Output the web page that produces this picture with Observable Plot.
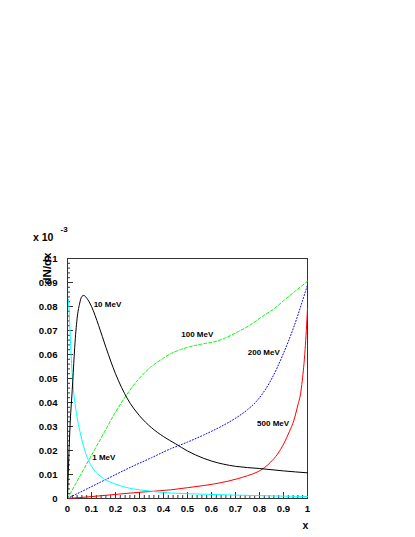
<!DOCTYPE html>
<html>
<head>
<meta charset="utf-8">
<script src="https://cdn.jsdelivr.net/npm/d3@7"></script>
<script src="https://cdn.jsdelivr.net/npm/@observablehq/plot@0.6"></script>
<style>
  html, body { margin: 0; padding: 0; background: #fff; }
  #chart svg { display: block; }
</style>
</head>
<body>
<div id="chart"></div>
<script>
// ---- data ----
const x1MeV = [0.004, 0.008, 0.012, 0.016, 0.02, 0.026, 0.035, 0.045, 0.054, 0.065, 0.082, 0.1, 0.117, 0.135, 0.151, 0.175, 0.2, 0.249, 0.3, 0.35, 0.4, 0.5, 0.6, 0.7, 0.8, 0.9, 1.0];
const y1MeV = [0.083, 0.076, 0.066, 0.058, 0.051, 0.044, 0.037, 0.031, 0.027, 0.0225, 0.0172, 0.0135, 0.011, 0.0095, 0.0082, 0.007, 0.006, 0.0045, 0.0036, 0.003, 0.0025, 0.002, 0.0017, 0.0014, 0.0012, 0.001, 0.0008];

const x10MeV = [0, 0.005, 0.0125, 0.017, 0.022, 0.03, 0.04, 0.05, 0.06, 0.068, 0.08, 0.1, 0.13, 0.16, 0.2, 0.25, 0.3, 0.35, 0.4, 0.45, 0.5, 0.568, 0.6, 0.65, 0.7, 0.8, 0.9, 1.0];
const y10MeV = [0, 0.016, 0.034, 0.041, 0.049, 0.063, 0.075, 0.081, 0.0842, 0.0846, 0.0835, 0.080, 0.072, 0.063, 0.052, 0.0415, 0.0345, 0.0295, 0.0258, 0.0228, 0.0198, 0.0167, 0.0156, 0.0143, 0.0134, 0.0125, 0.0115, 0.0107];

const x100MeV = [0, 0.05, 0.1, 0.15, 0.2, 0.235, 0.27, 0.304, 0.35, 0.4, 0.429, 0.47, 0.52, 0.568, 0.62, 0.66, 0.707, 0.76, 0.818, 0.86, 0.901, 0.95, 1.0];
const y100MeV = [0, 0.009, 0.018, 0.027, 0.036, 0.0415, 0.0465, 0.0506, 0.055, 0.0585, 0.0603, 0.062, 0.0635, 0.0645, 0.0655, 0.067, 0.0693, 0.0722, 0.0763, 0.079, 0.0825, 0.0865, 0.0905];

const x200MeV = [0, 0.1375, 0.2625, 0.35, 0.429, 0.5, 0.568, 0.64, 0.707, 0.75, 0.79, 0.846, 0.9, 0.943, 0.978, 1.0];
const y200MeV = [0, 0.0068, 0.013, 0.017, 0.0207, 0.0235, 0.0265, 0.030, 0.0339, 0.037, 0.0408, 0.049, 0.0605, 0.0715, 0.082, 0.089];

const x500MeV = [0, 0.1, 0.2, 0.3, 0.429, 0.5, 0.568, 0.64, 0.707, 0.75, 0.79, 0.82, 0.846, 0.875, 0.901, 0.925, 0.943, 0.96, 0.971, 0.978, 0.99, 1.0];
const y500MeV = [0, 0.0008, 0.0017, 0.0026, 0.0036, 0.0045, 0.0054, 0.0066, 0.0082, 0.0095, 0.011, 0.0128, 0.0151, 0.0185, 0.0228, 0.028, 0.0325, 0.039, 0.0436, 0.049, 0.062, 0.079];

const seriesNames = ["1 MeV", "10 MeV", "100 MeV", "200 MeV", "500 MeV"];
const labelX = [0.103, 0.109, 0.474, 0.751, 0.790];
const labelY = [0.0172, 0.081, 0.0682, 0.0607, 0.0311];

const xMajorTicks = [0, 0.1, 0.2, 0.3, 0.4, 0.5, 0.6, 0.7, 0.8, 0.9, 1];
const xTickLabels = ["0", "0.1", "0.2", "0.3", "0.4", "0.5", "0.6", "0.7", "0.8", "0.9", "1"];
const yMajorTicks = [0, 0.01, 0.02, 0.03, 0.04, 0.05, 0.06, 0.07, 0.08, 0.09, 0.1];
const yTickLabels = ["0", "0.01", "0.02", "0.03", "0.04", "0.05", "0.06", "0.07", "0.08", "0.09", "0.1"];
const minorPerMajor = 5;

const xTitle = "x";
const yTitle = "dN/dx";
const yExponentBase = "x 10";
const yExponent = "-3";

// ---- build tables ----
const toRows = (xs, ys) => xs.map((x, i) => ({x, y: ys[i]}));
const c1 = toRows(x1MeV, y1MeV);
const c10 = toRows(x10MeV, y10MeV);
const c100 = toRows(x100MeV, y100MeV);
const c200 = toRows(x200MeV, y200MeV);
const c500 = toRows(x500MeV, y500MeV);
const labels = seriesNames.map((name, i) => ({name, x: labelX[i], y: labelY[i]}));

const minor = (majors) => {
  const out = [];
  for (let i = 0; i < majors.length - 1; i++) {
    const a = majors[i], b = majors[i + 1];
    for (let k = 1; k < minorPerMajor; k++) out.push(a + (b - a) * k / minorPerMajor);
  }
  return out;
};
const xMinor = minor(xMajorTicks);
const yMinor = minor(yMajorTicks);

const font = "'Liberation Sans', Arial, Helvetica, sans-serif";
const frameColor = "#333";

const chart = Plot.plot({
  width: 415,
  height: 537,
  marginLeft: 67,
  marginRight: 108,
  marginTop: 258,
  marginBottom: 39,
  style: {fontFamily: font, background: "#fff", overflow: "visible"},
  x: {domain: [0, 1]},
  y: {domain: [0, 0.1]},
  marks: [
    Plot.frame({stroke: frameColor, strokeWidth: 1}),
    // y ticks (inward)
    Plot.axisY(yMajorTicks, {anchor: "left", tickSize: -6, text: null, stroke: frameColor, label: null}),
    Plot.axisY(yMinor, {anchor: "left", tickSize: -3, text: null, stroke: frameColor, label: null}),
    Plot.axisY(yMajorTicks, {anchor: "left", tickSize: 0, tickPadding: 10, tickFormat: (d, i) => yTickLabels[i],
      fontSize: 9.6, fontWeight: "bold", fill: "#000", label: null}),
    // x ticks (inward)
    Plot.axisX(xMajorTicks, {anchor: "bottom", tickSize: -6, text: null, stroke: frameColor, label: null}),
    Plot.axisX(xMinor, {anchor: "bottom", tickSize: -3, text: null, stroke: frameColor, label: null}),
    Plot.axisX(xMajorTicks, {anchor: "bottom", tickSize: 0, tickPadding: 7, tickFormat: (d, i) => xTickLabels[i],
      fontSize: 9.6, fontWeight: "bold", fill: "#000", label: null}),
    // curves
    Plot.line(c500, {x: "x", y: "y", stroke: "#ff0000", strokeWidth: 1, curve: "monotone-x"}),
    Plot.line(c200, {x: "x", y: "y", stroke: "#0000ff", strokeWidth: 1, strokeDasharray: "1,2", curve: "monotone-x"}),
    Plot.line(c100, {x: "x", y: "y", stroke: "#00ff00", strokeWidth: 1, strokeDasharray: "3,2", curve: "monotone-x"}),
    Plot.line(c1, {x: "x", y: "y", stroke: "#00ffff", strokeWidth: 1, curve: "monotone-x"}),
    Plot.line(c10, {x: "x", y: "y", stroke: "#000000", strokeWidth: 1, curve: "monotone-x"}),
    // curve labels
    Plot.text(labels, {x: "x", y: "y", text: "name", textAnchor: "start", fontSize: 8, fontWeight: "bold", fill: "#000"}),
    // titles
    Plot.text([yTitle], {frameAnchor: "top-left", rotate: -90, textAnchor: "end", dx: -25, dy: -6,
      fontSize: 11.5, fontWeight: "bold", fill: "#000"}),
    Plot.text([yExponentBase], {frameAnchor: "top-left", textAnchor: "start", dx: -34.5, dy: -25,
      fontSize: 10.5, fontWeight: "bold", fill: "#000"}),
    Plot.text([yExponent], {frameAnchor: "top-left", textAnchor: "start", dx: -7, dy: -32,
      fontSize: 8, fontWeight: "bold", fill: "#000"}),
    Plot.text([xTitle], {frameAnchor: "bottom-right", textAnchor: "middle", dx: -2, dy: 30,
      fontSize: 10.5, fontWeight: "bold", fill: "#000"})
  ]
});
document.getElementById("chart").appendChild(chart);
</script>
</body>
</html>
